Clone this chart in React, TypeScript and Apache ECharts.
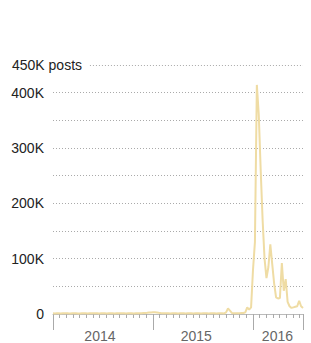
import React, { useEffect, useRef } from "react";
import * as echarts from "echarts";

// Weekly post counts, week 0 = first week of 2014
const posts2014 = [
  1200, 1100, 1300, 1200, 1100, 1200, 1300, 1400, 1200, 1100, 1200, 1300, 1200,
  1100, 1000, 1200, 1300, 1200, 1100, 1200, 1300, 1400, 1300, 1200, 1100, 1200,
  1300, 1200, 1100, 1200, 1300, 1200, 1100, 1200, 1300, 1400, 1300, 1200, 1100,
  1200, 1300, 1200, 1100, 1200, 1300, 1400, 1500, 1700, 1900, 2200, 2600, 2900,
];
const posts2015 = [
  3100, 3000, 2700, 2200, 1800, 1500, 1300, 1200, 1200, 1100, 1200, 1300, 1200,
  1100, 1200, 1300, 1200, 1100, 1200, 1300, 1200, 1100, 1200, 1300, 1200, 1100,
  1200, 1300, 1200, 1100, 1200, 1300, 1200, 1100, 1200, 1300, 1200, 1100, 3000,
  10000, 6000, 2000, 1500, 1300, 1400, 1500, 1600, 1700, 3000, 12000, 8000, 12000,
];
const posts2016 = [
  80000, 130000, 414000, 360000, 260000, 170000, 100000, 65000, 85000, 126000,
  90000, 55000, 30000, 28000, 29000, 92000, 42000, 63000, 22000, 14000, 11000,
  12000, 13000, 14000, 24000, 14000, 11000,
];

const yearLabels = ["2014", "2015", "2016"];
const yearLabelWeeks = [24.4, 74.5, 116.7];
const yearBoundaryWeeks = [0, 52, 104, 130];
const weeksPerTick = 52 / 15;

const yLabelValues = [0, 100000, 200000, 300000, 400000, 450000];

export default function App() {
  const ref = useRef<HTMLDivElement>(null);

  useEffect(() => {
    document.body.style.margin = "0";
    if (!ref.current) return;
    const chart = echarts.init(ref.current, null, { renderer: "svg" });

    const allPosts = [...posts2014, ...posts2015, ...posts2016];
    const data = allPosts.map((v, i) => [i, v]);

    const smallTicks: number[] = [];
    for (let t = 0; t <= 130 + 1e-6; t += weeksPerTick) smallTicks.push(+t.toFixed(4));
    smallTicks.push(130);

    const fmtY = (v: number) => {
      if (v === 450000) return "{t|450K posts}";
      if (v === 0) return "{r|0}";
      return "{r|" + v / 1000 + "K}";
    };

    chart.setOption({
      animation: false,
      grid: { left: 53, right: 8, top: 65, bottom: 29, outerBoundsMode: "none" },
      xAxis: [
        {
          type: "value",
          min: 0,
          max: 130,
          position: "bottom",
          axisLine: { show: true, lineStyle: { color: "#bbb", width: 1 } },
          axisTick: {
            show: true,
            customValues: smallTicks,
            length: 4,
            lineStyle: { color: "#aaa", width: 1 },
          },
          axisLabel: {
            show: true,
            customValues: yearLabelWeeks,
            formatter: (v: number) => {
              let best = 0;
              yearLabelWeeks.forEach((w, i) => {
                if (Math.abs(w - v) < Math.abs(yearLabelWeeks[best] - v)) best = i;
              });
              return yearLabels[best];
            },
            margin: 15,
            color: "#666",
            fontSize: 14,
            fontFamily: "Liberation Sans, Arial, sans-serif",
          },
          splitLine: { show: false },
        },
        {
          type: "value",
          min: 0,
          max: 130,
          position: "bottom",
          axisLine: { show: false },
          axisTick: {
            show: true,
            customValues: yearBoundaryWeeks,
            length: 16,
            lineStyle: { color: "#aaa", width: 1 },
          },
          axisLabel: { show: false },
          splitLine: { show: false },
        },
      ],
      yAxis: {
        type: "value",
        min: 0,
        max: 450000,
        interval: 50000,
        axisLine: { show: false },
        axisTick: { show: false },
        axisLabel: {
          customValues: yLabelValues,
          align: "left",
          margin: 41,
          formatter: fmtY,
          color: "#222",
          fontSize: 14,
          fontFamily: "Liberation Sans, Arial, sans-serif",
          rich: {
            r: {
              width: 32,
              align: "right",
              color: "#222",
              fontSize: 14,
              fontFamily: "Liberation Sans, Arial, sans-serif",
            },
            t: {
              color: "#222",
              fontSize: 14,
              fontFamily: "Liberation Sans, Arial, sans-serif",
            },
          },
        },
        splitLine: {
          show: true,
          showMinLine: false,
          showMaxLine: false,
          lineStyle: { type: [1, 2], color: "#aaa", width: 1 },
        },
      },
      series: [
        {
          type: "line",
          xAxisIndex: 0,
          data,
          showSymbol: false,
          symbol: "none",
          lineStyle: { color: "#efdca4", width: 2 },
          markLine: {
            silent: true,
            symbol: "none",
            label: { show: false },
            lineStyle: { type: [1, 2], color: "#aaa", width: 1 },
            data: [[{ coord: [19.2, 450000] }, { coord: [130, 450000] }]],
          },
        },
      ],
    });

    return () => chart.dispose();
  }, []);

  return <div ref={ref} style={{ width: 311, height: 343 }} />;
}
